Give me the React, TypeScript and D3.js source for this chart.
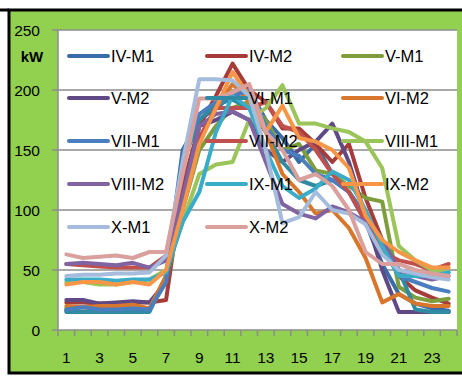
import React from "react";
import * as d3 from "d3";

const hours = d3.range(1, 25);
const xTickLabels = [1, 3, 5, 7, 9, 11, 13, 15, 17, 19, 21, 23];
const yTicks = [0, 50, 100, 150, 200, 250];

const seriesNames = [
  "IV-M1", "IV-M2", "V-M1", "V-M2", "VI-M1", "VI-M2", "VII-M1",
  "VII-M2", "VIII-M1", "VIII-M2", "IX-M1", "IX-M2", "X-M1", "X-M2",
];
const seriesColors = [
  "#3A6DA8", "#A63C3A", "#7E9E3E", "#5F4A86", "#2E8BA3", "#D8772C", "#4A7EBE",
  "#C0504D", "#9BC45A", "#8064A2", "#3AACC8", "#F79646", "#A5BCDD", "#D9A09E",
];

const ivM1 = [16, 15, 15, 15, 15, 16, 45, 150, 175, 185, 195, 200, 175, 160, 140, 155, 130, 115, 90, 55, 30, 22, 18, 16];
const ivM2 = [23, 23, 22, 22, 23, 23, 25, 120, 170, 195, 222, 200, 190, 168, 168, 155, 140, 155, 110, 75, 45, 33, 27, 22];
const vM1 = [18, 19, 18, 18, 18, 17, 40, 100, 150, 170, 185, 190, 175, 150, 155, 133, 130, 120, 110, 107, 36, 27, 24, 26];
const vM2 = [25, 25, 22, 23, 24, 23, 40, 110, 170, 175, 182, 175, 150, 140, 150, 157, 172, 140, 95, 50, 15, 15, 15, 15];
const viM1 = [15, 15, 15, 15, 15, 15, 45, 140, 175, 188, 192, 185, 165, 140, 125, 120, 125, 115, 95, 75, 50, 17, 15, 15];
const viM2 = [20, 19, 20, 20, 21, 18, 45, 105, 160, 185, 205, 190, 165, 130, 115, 97, 100, 85, 60, 23, 30, 22, 20, 20];
const viiM1 = [17, 19, 17, 17, 18, 17, 40, 145, 180, 190, 195, 200, 170, 150, 145, 130, 125, 115, 95, 70, 45, 40, 35, 32];
const viiM2 = [55, 54, 53, 52, 52, 52, 62, 110, 160, 185, 185, 185, 190, 170, 165, 150, 130, 115, 90, 65, 58, 55, 50, 55];
const viiiM1 = [40, 40, 38, 38, 40, 42, 50, 90, 130, 138, 140, 175, 185, 204, 172, 172, 168, 165, 157, 135, 70, 58, 50, 48];
const viiiM2 = [55, 56, 55, 54, 56, 52, 58, 110, 170, 180, 182, 175, 140, 105, 97, 93, 103, 98, 90, 75, 50, 45, 42, 45];
const ixM1 = [42, 42, 42, 41, 42, 42, 48, 90, 115, 165, 195, 185, 150, 120, 110, 118, 132, 125, 100, 70, 45, 45, 45, 48];
const ixM2 = [38, 40, 40, 38, 40, 38, 50, 100, 155, 185, 215, 195, 165, 187, 160, 157, 150, 135, 95, 75, 65, 58, 52, 52];
const xM1 = [45, 46, 46, 47, 47, 48, 62, 140, 209, 209, 208, 195, 150, 89, 94, 115, 100, 97, 88, 63, 50, 47, 44, 42];
const xM2 = [63, 60, 61, 62, 60, 65, 65, 130, 193, 193, 198, 205, 165, 150, 125, 130, 120, 100, 65, 55, 55, 50, 47, 45];

const seriesValues = [ivM1, ivM2, vM1, vM2, viM1, viM2, viiM1, viiM2, viiiM1, viiiM2, ixM1, ixM2, xM1, xM2];

const FONT = "'Liberation Sans', Arial, sans-serif";

export default function App() {
  const W = 462, H = 378;
  const left = 58, right = 457, top = 30, bottom = 330;
  const x = d3.scaleBand<number>().domain(hours).range([left, right]);
  const y = d3.scaleLinear().domain([0, 250]).range([bottom, top]);
  const cx = (h: number) => (x(h) as number) + x.bandwidth() / 2;
  const line = d3.line<number>().x((_, i) => cx(hours[i])).y((v) => y(v));
  const boundaries = d3.range(0, 25).map((i) => left + i * x.bandwidth());

  const legendCols = [69, 207, 343];
  const legendRows = [56, 98, 141, 184, 227];

  return (
    <svg width={W} height={H} style={{ position: "absolute", left: 0, top: 0, display: "block" }}>
      <rect x={0} y={0} width={W} height={H} fill="#fff" />
      <rect x={9} y={10} width={W} height={363} fill="#92D050" stroke="#000" strokeWidth={3} />
      <line x1={0} x2={9} y1={10} y2={10} stroke="#000" strokeWidth={3} />
      <rect x={left} y={top} width={right - left} height={bottom - top} fill="#fff" />
      {yTicks.map((t) => (
        <g key={t}>
          <line x1={left - 6} x2={right} y1={y(t)} y2={y(t)} stroke="#8c8c8c" strokeWidth={1.5} />
          <text x={40} y={y(t)} dy="0.36em" textAnchor="end" fontFamily={FONT} fontSize={15.5} fill="#000">
            {t}
          </text>
        </g>
      ))}
      <text x={32} y={57} dy="0.36em" textAnchor="middle" fontFamily={FONT} fontSize={15} fontWeight="bold" fill="#000">
        kW
      </text>
      <line x1={left} x2={left} y1={top} y2={bottom} stroke="#8c8c8c" strokeWidth={1.5} />
      {boundaries.map((bx, i) => (
        <line key={i} x1={bx} x2={bx} y1={bottom} y2={bottom + 6} stroke="#8c8c8c" strokeWidth={1.5} />
      ))}
      {xTickLabels.map((h) => (
        <text key={h} x={cx(h)} y={357} dy="0.36em" textAnchor="middle" fontFamily={FONT} fontSize={15.5} fill="#000">
          {h}
        </text>
      ))}
      {seriesValues.map((vals, i) => (
        <path
          key={seriesNames[i]}
          d={line(vals) || ""}
          fill="none"
          stroke={seriesColors[i]}
          strokeWidth={4}
          strokeLinejoin="round"
          strokeLinecap="round"
        />
      ))}
      {seriesNames.map((name, i) => {
        const lx = legendCols[i % 3];
        const ly = legendRows[Math.floor(i / 3)];
        return (
          <g key={name}>
            <line x1={lx} x2={lx + 39} y1={ly} y2={ly} stroke={seriesColors[i]} strokeWidth={4} strokeLinecap="round" />
            <text x={lx + 42} y={ly} dy="0.36em" fontFamily={FONT} fontSize={16.5} fill="#000">
              {name}
            </text>
          </g>
        );
      })}
    </svg>
  );
}
